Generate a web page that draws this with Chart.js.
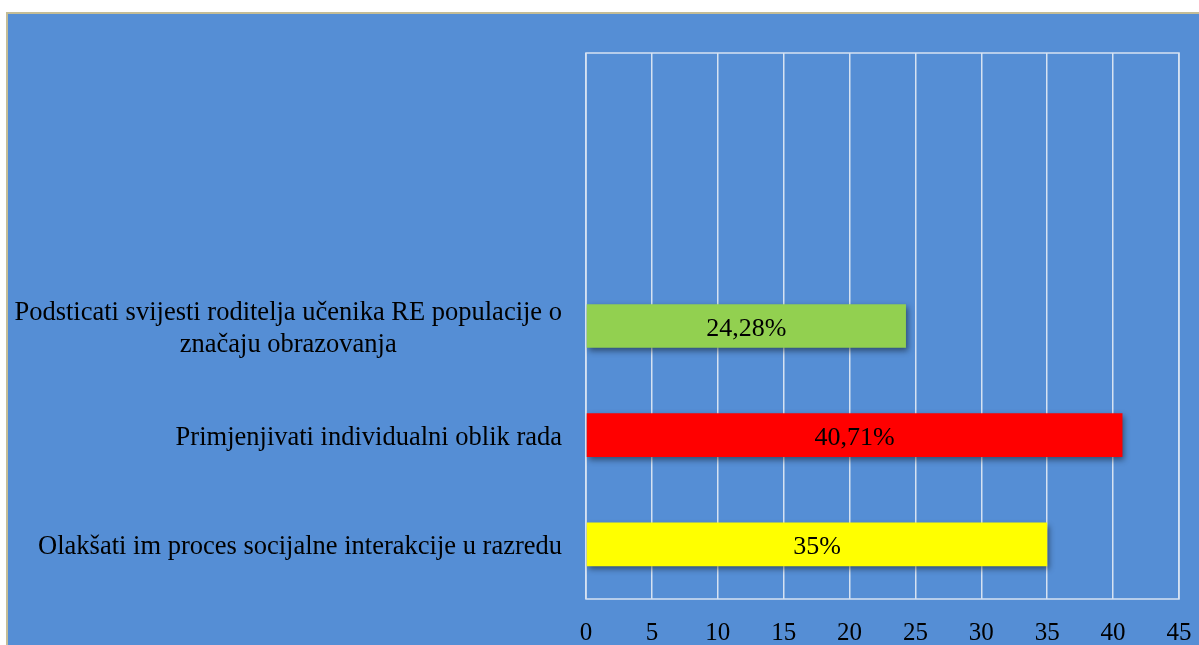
<!DOCTYPE html>
<html>
<head>
<meta charset="utf-8">
<script src="https://cdn.jsdelivr.net/npm/chart.js@4/dist/chart.umd.min.js"></script>
<style>
  html, body { margin: 0; padding: 0; background: #fff; overflow: hidden; }
  #cadre {
    position: absolute; left: 6px; top: 12px;
    width: 1193px; height: 633px; box-sizing: border-box;
    border-left: 2px solid #c4bd97; border-top: 2px solid #c4bd97;
    background: #558ed5;
  }
  #graphique { display: block; }
</style>
</head>
<body>
<div id="cadre"><canvas id="graphique" width="1191" height="631"></canvas></div>
<script>
// categories (de haut en bas), les deux premieres sont vides
const categories = [
  "",
  "",
  ["Podsticati svijesti roditelja učenika RE populacije o", "značaju obrazovanja"],
  "Primjenjivati individualni oblik rada",
  "Olakšati im proces socijalne interakcije u razredu",
];
const valeurs = [null, null, 24.28, 40.71, 35];
const etiquettes = ["", "", "24,28%", "40,71%", "35%"];
const couleurs = ["#92d050", "#92d050", "#92d050", "#ff0000", "#ffff00"];
const axeMin = 0;
const axeMax = 45;
const axePas = 5;

const police = "'Liberation Serif', 'Times New Roman', serif";
const couleurGrille = "#d6e2f2";

// ombre des barres + cadre de la zone du graphique
const pluginOmbre = {
  id: "ombre",
  beforeDatasetsDraw(chart) {
    const ctx = chart.ctx;
    const a = chart.chartArea;
    ctx.save();
    ctx.strokeStyle = couleurGrille;
    ctx.lineWidth = 1.5;
    ctx.strokeRect(a.left, a.top, a.right - a.left, a.bottom - a.top);
    ctx.restore();
    ctx.save();
    ctx.shadowColor = "rgba(0,0,0,0.45)";
    ctx.shadowBlur = 6;
    ctx.shadowOffsetX = 2;
    ctx.shadowOffsetY = 3;
  },
  afterDatasetsDraw(chart) {
    chart.ctx.restore();
  },
};

// etiquettes de l'axe y et valeurs dans les barres
const pluginTextes = {
  id: "textes",
  afterDraw(chart) {
    const ctx = chart.ctx;
    const y = chart.scales.y;
    const meta = chart.getDatasetMeta(0);
    const decalage = 3; // le texte est un peu plus bas que le centre
    ctx.save();
    ctx.fillStyle = "#000";
    ctx.textBaseline = "middle";
    ctx.textAlign = "center";
    ctx.font = "26.5px " + police;
    const droite = chart.chartArea.left - 24;
    const hauteurLigne = 32;
    for (let i = 0; i < categories.length; i++) {
      const lignes = Array.isArray(categories[i]) ? categories[i] : [categories[i]];
      if (!lignes[0]) continue;
      let largeur = 0;
      for (const l of lignes) largeur = Math.max(largeur, ctx.measureText(l).width);
      const cx = droite - largeur / 2;
      const cy = y.getPixelForValue(i) + decalage;
      const debut = cy - ((lignes.length - 1) * hauteurLigne) / 2;
      lignes.forEach((l, k) => ctx.fillText(l, cx, debut + k * hauteurLigne));
    }
    ctx.font = "26px " + police;
    for (let i = 0; i < etiquettes.length; i++) {
      if (!etiquettes[i] || valeurs[i] == null) continue;
      const barre = meta.data[i];
      ctx.fillText(etiquettes[i], (barre.x + barre.base) / 2, barre.y + decalage);
    }
    ctx.restore();
  },
};

new Chart(document.querySelector("#graphique"), {
  type: "bar",
  data: {
    labels: categories,
    datasets: [
      {
        data: valeurs,
        backgroundColor: couleurs,
        barPercentage: 0.4,
        categoryPercentage: 1,
      },
    ],
  },
  options: {
    indexAxis: "y",
    responsive: false,
    animation: false,
    layout: { padding: { top: 39, right: 20, left: 0, bottom: 0 } },
    plugins: { legend: { display: false }, tooltip: { enabled: false } },
    scales: {
      x: {
        min: axeMin,
        max: axeMax,
        ticks: {
          stepSize: axePas,
          color: "#000",
          font: { family: police, size: 25 },
          padding: 19,
        },
        grid: { color: couleurGrille, lineWidth: 1.5, drawTicks: false },
        border: { display: false },
        afterFit(scale) {
          scale.height = 46;
          // pas de place en plus pour le dernier label
          scale.paddingLeft = 0;
          scale.paddingRight = 0;
        },
      },
      y: {
        ticks: { display: false },
        grid: { display: false },
        border: { display: false },
        afterFit(scale) {
          scale.width = 578;
        },
      },
    },
  },
  plugins: [pluginOmbre, pluginTextes],
});
</script>
</body>
</html>
